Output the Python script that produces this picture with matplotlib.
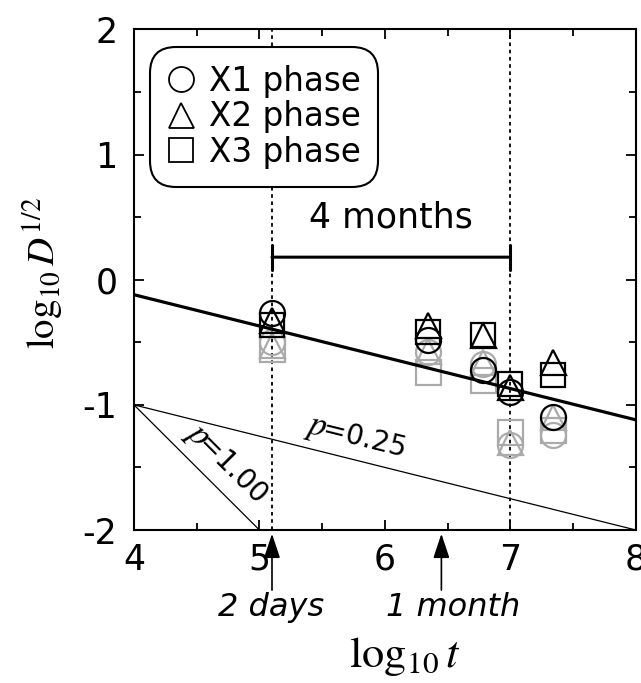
import numpy as np
import matplotlib.pyplot as plt
from matplotlib.ticker import MultipleLocator

plt.rcParams['font.family'] = ['DejaVu Sans']
plt.rcParams['mathtext.fontset'] = 'stix'

# data (log10 t, log10 D^1/2)
log_t = [5.1, 6.34, 6.78, 7.0, 7.34]
x1_black = [-0.27, -0.48, -0.72, -0.90, -1.10]
x2_black = [-0.32, -0.36, -0.44, -0.86, -0.66]
x3_black = [-0.36, -0.42, -0.44, -0.83, -0.76]
x1_gray = [-0.50, -0.58, -0.67, -1.32, -1.24]
x2_gray = [-0.52, -0.57, -0.66, -1.30, -1.10]
x3_gray = [-0.55, -0.74, -0.80, -1.22, -1.20]

fit_x = [4, 8]
fit_y = [-0.12, -1.12]
p025_x = [4, 8]
p025_y = [-1.0, -2.0]
p100_x = [4, 5]
p100_y = [-1.0, -2.0]

t_2days = 5.1
t_4months = 7.0
t_1month = 6.45

gray = '#aaaaaa'
ms = 18
mew = 1.6

fig = plt.figure(figsize=(6.41, 6.83), dpi=100)
ax = fig.add_axes([0.209, 0.224, 0.783, 0.733])

ax.axvline(t_2days, color='k', ls=(0, (2, 2)), lw=1.3, zorder=1)
ax.axvline(t_4months, color='k', ls=(0, (2, 2)), lw=1.3, zorder=1)

ax.plot(p025_x, p025_y, color='k', lw=0.9)
ax.plot(p100_x, p100_y, color='k', lw=0.9)

for y, m in [(x1_gray, 'o'), (x2_gray, '^'), (x3_gray, 's')]:
    ax.plot(log_t, y, ls='none', marker=m, ms=ms, mfc='none', mec=gray, mew=mew, zorder=2)

ax.plot(fit_x, fit_y, color='k', lw=2.3, zorder=3)

ax.plot(log_t, x1_black, ls='none', marker='o', ms=ms, mfc='none', mec='k', mew=mew, zorder=4, label='X1 phase')
ax.plot(log_t, x2_black, ls='none', marker='^', ms=ms, mfc='none', mec='k', mew=mew, zorder=4, label='X2 phase')
ax.plot(log_t, x3_black, ls='none', marker='s', ms=ms - 1, mfc='none', mec='k', mew=mew, zorder=4, label='X3 phase')

# 4 months bar
ax.annotate('', xy=(t_2days, 0.18), xytext=(t_4months, 0.18),
            arrowprops=dict(arrowstyle='|-|,widthA=0.9,widthB=0.9', lw=2.2, color='k',
                            shrinkA=0, shrinkB=0))
ax.text((t_2days + t_4months) / 2, 0.5, '4 months', ha='center', va='center', fontsize=25)

# slope labels: big italic p, then "=value"
for (x0, y0), ang, val in [((4.40, -1.23), -45, '=1.00'), ((5.36, -1.22), -14, '=0.25')]:
    ax.text(x0, y0, r'$p$', rotation=ang, ha='left', va='baseline', fontsize=25,
            rotation_mode='anchor')
    d = 12.5
    ax.annotate(val, xy=(x0, y0), xytext=(d * np.cos(np.radians(ang)), d * np.sin(np.radians(ang))),
                textcoords='offset points', rotation=ang, ha='left', va='baseline',
                fontsize=20, rotation_mode='anchor')

# arrows below axis
for tx in [t_2days, t_1month]:
    ax.annotate('', xy=(tx, -2.03), xytext=(tx, -2.48), annotation_clip=False,
                arrowprops=dict(arrowstyle='-|>,head_length=1.5,head_width=0.5', lw=1.2,
                                color='k', shrinkA=0, shrinkB=0))
ax.text(5.09, -2.62, '2 days', style='italic', ha='center', va='center', fontsize=23,
        clip_on=False)
ax.text(6.54, -2.62, '1 month', style='italic', ha='center', va='center', fontsize=23,
        clip_on=False)

ax.set_xlim(4, 8)
ax.set_ylim(-2, 2)
ax.xaxis.set_major_locator(MultipleLocator(1))
ax.xaxis.set_minor_locator(MultipleLocator(0.5))
ax.yaxis.set_major_locator(MultipleLocator(1))
ax.yaxis.set_minor_locator(MultipleLocator(0.5))
ax.tick_params(which='both', direction='in', top=True, right=True, width=1.3, labelsize=25)
ax.tick_params(which='major', length=7)
ax.tick_params(which='minor', length=5)
ax.tick_params(axis='x', pad=9)
ax.tick_params(axis='y', pad=12)
ax.set_yticks([-2, -1, 0, 1, 2])
ax.set_yticklabels(['-2', '-1', '0', '1', '2'])
for s in ax.spines.values():
    s.set_linewidth(1.5)

ax.set_xlabel(r'$\log_{10}t$', fontsize=32)
ax.set_ylabel(r'$\log_{10}D^{1/2}$', fontsize=28)
ax.xaxis.set_label_coords(0.54, -0.21)
ax.yaxis.set_label_coords(-0.135, 0.513)

leg = ax.legend(loc='upper left', fontsize=23.5, numpoints=1, handlelength=0.8,
                handletextpad=0.45, labelspacing=0.08, borderpad=0.35,
                bbox_to_anchor=(0.012, 0.985), edgecolor='k', framealpha=1)
leg.get_frame().set_linewidth(1.5)
leg.get_frame().set_boxstyle('round,pad=0.2,rounding_size=0.8')
for h in leg.legend_handles:
    h.set_markeredgewidth(1.3)

fig.savefig('out.png', dpi=100)
